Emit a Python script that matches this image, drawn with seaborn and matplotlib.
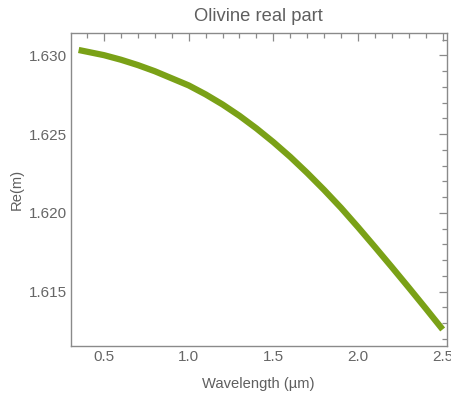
import matplotlib
matplotlib.use("Agg")
import matplotlib.pyplot as plt
from matplotlib.ticker import MultipleLocator, FormatStrFormatter
import seaborn as sns
import pandas as pd

# Real part of the olivine refractive index versus wavelength
wavelength_um = [0.35, 0.5, 0.6, 0.7, 0.8, 0.9, 1.0, 1.1, 1.2, 1.3, 1.4, 1.5,
                 1.6, 1.7, 1.8, 1.9, 2.0, 2.1, 2.2, 2.3, 2.4, 2.5]
re_m = [1.63035, 1.63002, 1.62973, 1.62939, 1.62900, 1.62855, 1.62810, 1.62753,
        1.62689, 1.62617, 1.62537, 1.62450, 1.62356, 1.62254, 1.62146, 1.62032,
        1.61910, 1.61784, 1.61656, 1.61526, 1.61394, 1.61260]

sns.set_theme(style="white")
plt.rcParams["font.family"] = ["Liberation Sans Narrow", "Liberation Sans", "DejaVu Sans"]

gray = "#5f5f5f"
df = pd.DataFrame({"Wavelength": wavelength_um, "Re": re_m})

fig = plt.figure(figsize=(4.52, 4.03), dpi=100)
ax = fig.add_axes([0.1564, 0.1414, 0.8319, 0.776])
sns.lineplot(data=df, x="Wavelength", y="Re", ax=ax, color="#7aa117",
             linewidth=4.5, solid_capstyle="butt")

ax.set_xlim(0.303, 2.524)
ax.set_ylim(1.61155, 1.63141)
ax.xaxis.set_major_locator(MultipleLocator(0.5))
ax.xaxis.set_minor_locator(MultipleLocator(0.1))
ax.yaxis.set_major_locator(MultipleLocator(0.005))
ax.yaxis.set_minor_locator(MultipleLocator(0.001))
ax.xaxis.set_major_formatter(FormatStrFormatter("%.1f"))
ax.yaxis.set_major_formatter(FormatStrFormatter("%.3f"))

ax.tick_params(which="both", direction="in", top=True, right=True,
               color="#8a8a8a", labelcolor="#666666", labelsize=11, width=0.9)
ax.tick_params(which="major", length=6, pad=3)
ax.tick_params(which="minor", length=3.5)
for s in ax.spines.values():
    s.set_color("#8a8a8a")
    s.set_linewidth(1.0)

ax.set_xlabel("Wavelength (µm)", color=gray, fontsize=10.6, labelpad=9)
ax.set_ylabel("Re(m)", color=gray, fontsize=10.6, labelpad=3)
ax.set_title("Olivine real part", color=gray, fontsize=13.2, pad=9)

fig.savefig("out.png", dpi=100)
